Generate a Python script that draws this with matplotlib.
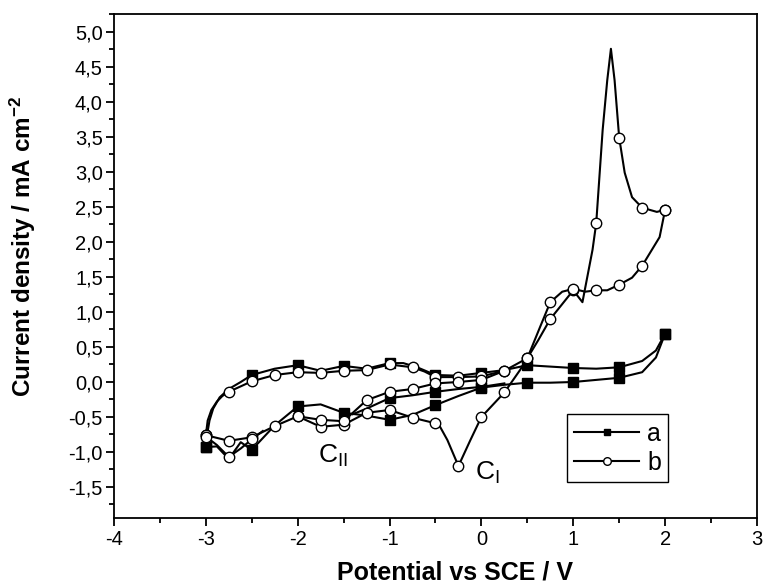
import matplotlib

matplotlib.use("Agg")
import matplotlib.pyplot as plt
from matplotlib.lines import Line2D
from matplotlib.ticker import MultipleLocator, FuncFormatter
import numpy as np

# curve a (filled squares), branches
a_up_E = [-3.0, -2.99, -2.96, -2.92, -2.85, -2.75, -2.62, -2.5, -2.25, -2.0, -1.75,
          -1.5, -1.25, -1.0, -0.85, -0.7, -0.5, -0.25, 0.0, 0.25, 0.5, 0.75, 1.0,
          1.25, 1.5, 1.75, 1.9, 2.0]
a_up_j = [-0.93, -0.78, -0.55, -0.38, -0.22, -0.1, 0.0, 0.1, 0.19, 0.24, 0.16,
          0.23, 0.19, 0.27, 0.27, 0.21, 0.1, 0.09, 0.13, 0.17, 0.24, 0.22, 0.2,
          0.19, 0.21, 0.3, 0.45, 0.69]
a_dn_E = [2.0, 1.9, 1.75, 1.5, 1.25, 1.0, 0.75, 0.5, 0.25, 0.0, -0.25, -0.5, -0.75,
          -1.0, -1.25, -1.5, -1.75, -2.0, -2.25, -2.5, -2.62, -2.75, -2.88, -3.0]
a_dn_j = [0.69, 0.35, 0.14, 0.06, 0.03, 0.0, -0.01, -0.01, -0.04, -0.08, -0.2, -0.33,
          -0.47, -0.54, -0.48, -0.44, -0.32, -0.35, -0.62, -0.97, -0.86, -1.1, -0.92,
          -0.93]
a_dn2_E = [0.25, 0.0, -0.25, -0.5, -0.75, -1.0, -1.25, -1.4]
a_dn2_j = [-0.02, -0.07, -0.1, -0.14, -0.19, -0.23, -0.38, -0.46]

# curve b (open circles)
b_up_E = [-3.0, -2.98, -2.94, -2.88, -2.82, -2.75, -2.5, -2.25, -2.0, -1.75, -1.5,
          -1.25, -1.0, -0.75, -0.62, -0.5, -0.25, 0.0, 0.25, 0.5, 0.62, 0.75, 1.0,
          1.1, 1.21, 1.25, 1.32, 1.37, 1.41, 1.45, 1.5, 1.56, 1.64, 1.75, 1.91, 2.0]
b_up_j = [-0.76, -0.55, -0.4, -0.28, -0.2, -0.14, 0.01, 0.1, 0.14, 0.13, 0.16,
          0.17, 0.25, 0.21, 0.15, 0.07, 0.07, 0.08, 0.16, 0.34, 0.6, 0.9, 1.31,
          1.14, 1.89, 2.27, 3.6, 4.31, 4.76, 4.31, 3.49, 2.99, 2.64, 2.49, 2.43, 2.46]
b_dn_E = [2.0, 1.94, 1.75, 1.64, 1.5, 1.37, 1.25, 1.13, 1.0, 0.88, 0.75, 0.64, 0.5,
          0.42, 0.25, 0.0, -0.12, -0.25, -0.37, -0.45, -0.5, -0.75, -1.0, -1.25,
          -1.5, -1.75, -2.0, -2.25, -2.5, -2.75, -3.0]
b_dn_j = [2.46, 2.07, 1.66, 1.49, 1.39, 1.31, 1.31, 1.29, 1.33, 1.29, 1.14, 0.79,
          0.34, 0.17, -0.15, -0.5, -0.83, -1.2, -0.83, -0.64, -0.59, -0.51, -0.4,
          -0.44, -0.61, -0.64, -0.49, -0.63, -0.79, -0.84, -0.76]
b_mid_E = [-3.0, -2.88, -2.75, -2.62, -2.5, -2.38]
b_mid_j = [-0.78, -0.9, -1.07, -0.95, -0.82, -0.7]
b_mid2_E = [-2.0, -1.75, -1.5, -1.25, -1.0, -0.75, -0.5, -0.25, 0.0, 0.25]
b_mid2_j = [-0.49, -0.54, -0.56, -0.26, -0.14, -0.1, -0.02, 0.0, 0.03, 0.16]

labels = ["a", "b"]
x_ticks = [-4, -3, -2, -1, 0, 1, 2, 3]

plt.rcParams.update(
    {
        "font.family": "sans-serif",
        "font.sans-serif": ["Liberation Sans", "DejaVu Sans"],
        "mathtext.fontset": "custom",
        "mathtext.rm": "Liberation Sans",
        "mathtext.bf": "Liberation Sans:bold",
        "axes.linewidth": 1.3,
    }
)

fig = plt.figure(figsize=(7.65, 5.87), dpi=100)
ax = fig.add_axes([0.149, 0.1167, 0.8405, 0.8586])


def branch(E, j, style, step):
    E = np.asarray(E)
    j = np.asarray(j)
    ax.plot(E, j, color="black", linewidth=1.5, zorder=2)
    mk = np.isclose(np.mod(E + 10, step), 0) | np.isclose(np.mod(E + 10, step), step)
    ax.plot(E[mk], j[mk], linestyle="none", zorder=3, **style)


sq = dict(marker="s", markersize=6.5, markerfacecolor="black", markeredgecolor="black")
ci = dict(marker="o", markersize=7.5, markerfacecolor="white", markeredgecolor="black",
          markeredgewidth=1.0)

branch(a_up_E, a_up_j, sq, 0.5)
branch(a_dn_E, a_dn_j, sq, 0.5)
branch(a_dn2_E, a_dn2_j, sq, 0.5)
branch(b_up_E, b_up_j, ci, 0.25)
branch(b_dn_E, b_dn_j, ci, 0.25)
branch(b_mid_E, b_mid_j, ci, 0.25)
branch(b_mid2_E, b_mid2_j, ci, 0.25)

ax.text(-1.78, -1.06, r"C$_{\mathregular{II}}$", fontsize=19, va="center", ha="left")
ax.text(-0.07, -1.3, r"C$_{\mathregular{I}}$", fontsize=19, va="center", ha="left")

ax.set_xlim(-4, 3)
ax.set_ylim(-1.95, 5.25)
ax.set_xticks(x_ticks)
ax.xaxis.set_minor_locator(MultipleLocator(0.5))
ax.yaxis.set_major_locator(MultipleLocator(0.5))
ax.yaxis.set_minor_locator(MultipleLocator(0.25))
ax.yaxis.set_major_formatter(FuncFormatter(lambda v, p: f"{v:.1f}".replace(".", ",")))
ax.xaxis.set_major_formatter(FuncFormatter(lambda v, p: f"{v:.0f}"))
ax.tick_params(which="major", direction="out", length=6, width=1.3, labelsize=14.5,
               pad=2)
ax.tick_params(which="minor", direction="out", length=3.5, width=1.3)

ax.set_xlabel("Potential vs SCE / V", fontsize=18, fontweight="bold")
ax.xaxis.set_label_coords(0.53, -0.084)
ax.set_ylabel(r"Current density / mA cm$^{\mathbf{-2}}$", fontsize=17.5,
              fontweight="bold")
ax.yaxis.set_label_coords(-0.118, 0.54)

handles = [
    Line2D([], [], color="black", linewidth=1.5, marker="s", markersize=5,
           markerfacecolor="black"),
    Line2D([], [], color="black", linewidth=1.5, marker="o", markersize=5.5,
           markerfacecolor="white", markeredgecolor="black"),
]
ax.legend(handles, labels, loc="lower left", bbox_to_anchor=(0.7045, 0.0716),
          borderaxespad=0, fontsize=18, handlelength=2.6, handletextpad=0.3,
          fancybox=False, edgecolor="black", framealpha=1, borderpad=0.3,
          labelspacing=0.2)
ax.get_legend().get_frame().set_linewidth(1.0)

fig.savefig("out.png", dpi=100, facecolor="white")
